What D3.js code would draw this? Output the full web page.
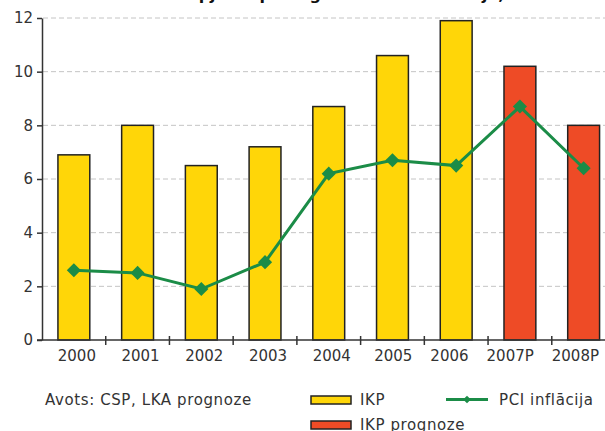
<!DOCTYPE html>
<html>
<head>
<meta charset="utf-8">
<script src="https://cdn.jsdelivr.net/npm/d3@7"></script>
<style>
  body { margin: 0; background: #fff; }
  svg { display: block; font-family: "DejaVu Sans", Verdana, sans-serif; }
</style>
</head>
<body>
<div id="chart"></div>
<script>
var categories = ['2000', '2001', '2002', '2003', '2004', '2005', '2006', '2007P', '2008P'];
var gdp = [6.9, 8.0, 6.5, 7.2, 8.7, 10.6, 11.9, 10.2, 8.0];
var forecast = [false, false, false, false, false, false, false, true, true];
var inflation = [2.6, 2.5, 1.9, 2.9, 6.2, 6.7, 6.5, 8.7, 6.4];
var yTicks = [0, 2, 4, 6, 8, 10, 12];
var title = 'IKP apjoma pieaugums un PCI inflācija, %';
var source = 'Avots: CSP, LKA prognoze';
var legendItems = ['IKP', 'IKP prognoze', 'PCI inflācija'];

var width = 605, height = 431;
var yellow = '#ffd608', red = '#ee4b26', green = '#1b8c47';

var svg = d3.select('#chart').append('svg')
    .attr('width', width)
    .attr('height', height);

var x = d3.scaleBand()
    .domain(categories)
    .range([42, 615.5])
    .paddingInner(0.5)
    .paddingOuter(0.25);

var y = d3.scaleLinear()
    .domain([0, 12])
    .range([340, 18]);

// title, cut off at the top like the source image
svg.append('text')
    .attr('x', 526)
    .attr('y', -0.5)
    .attr('text-anchor', 'end')
    .style('font-size', '16px')
    .style('font-weight', 'bold')
    .style('fill', '#111')
    .text(title);

// gridlines
svg.append('g').selectAll('line')
    .data(yTicks.filter(function(d) { return d > 0; }))
    .enter().append('line')
    .attr('x1', 43).attr('x2', width)
    .attr('y1', function(d) { return y(d); })
    .attr('y2', function(d) { return y(d); })
    .style('stroke', '#c4c4c4')
    .style('stroke-dasharray', '5,3');

// bars
svg.append('g').selectAll('rect')
    .data(categories)
    .enter().append('rect')
    .attr('x', function(d) { return x(d); })
    .attr('y', function(d, i) { return y(gdp[i]); })
    .attr('width', x.bandwidth())
    .attr('height', function(d, i) { return y(0) - y(gdp[i]); })
    .style('fill', function(d, i) { return forecast[i] ? red : yellow; })
    .style('stroke', '#222')
    .style('stroke-width', 1.5);

// y axis
var yAxis = svg.append('g')
    .attr('transform', 'translate(42,0)')
    .call(d3.axisLeft(y).tickValues(yTicks).tickSize(5).tickPadding(4).tickSizeOuter(0));
yAxis.select('.domain').style('stroke', '#333').style('stroke-width', 1.5);
yAxis.selectAll('.tick line').style('stroke', '#333').style('stroke-width', 1.5);
yAxis.selectAll('.tick text')
    .style('font-size', '15px')
    .style('fill', '#333')
    .style('font-family', '"DejaVu Sans", Verdana, sans-serif');

// x axis: labels near band centres, ticks between bands
var xAxis = svg.append('g')
    .attr('transform', 'translate(0,' + y(0) + ')')
    .call(d3.axisBottom(x).tickSize(0).tickPadding(10));
xAxis.select('.domain').remove();
xAxis.selectAll('.tick text')
    .style('font-size', '15px')
    .style('fill', '#333')
    .style('font-family', '"DejaVu Sans", Verdana, sans-serif')
    .attr('x', 3);

// keep labels inside the picture: push from the right so they don't crowd
var labels = xAxis.selectAll('.tick text').nodes();
var limit = width - 6, gap = 18;
for (var i = labels.length - 1; i >= 0; i--) {
    var tick = labels[i].parentNode;
    var cx = x(categories[i]) + x.bandwidth() / 2 + 3;
    var half = labels[i].getComputedTextLength() / 2;
    if (cx + half > limit) cx = limit - half;
    d3.select(labels[i]).attr('x', cx - (x(categories[i]) + x.bandwidth() / 2));
    limit = cx - half - gap;
}

svg.append('line')
    .attr('x1', 37).attr('x2', width)
    .attr('y1', y(0)).attr('y2', y(0))
    .style('stroke', '#333').style('stroke-width', 1.5);

var step = x.step();
svg.append('g').selectAll('line')
    .data(categories.slice(1))
    .enter().append('line')
    .attr('x1', function(d) { return x(d) - (step - x.bandwidth()) / 2; })
    .attr('x2', function(d) { return x(d) - (step - x.bandwidth()) / 2; })
    .attr('y1', y(0) - 4).attr('y2', y(0) + 5)
    .style('stroke', '#333').style('stroke-width', 1.5);

// inflation line
var line = d3.line()
    .x(function(d, i) { return x(categories[i]) + x.bandwidth() / 2; })
    .y(function(d) { return y(d); });

svg.append('path')
    .datum(inflation)
    .attr('d', line)
    .style('fill', 'none')
    .style('stroke', green)
    .style('stroke-width', 3);

var diamond = d3.symbol().type(d3.symbolSquare).size(100);
svg.append('g').selectAll('path')
    .data(inflation)
    .enter().append('path')
    .attr('d', diamond)
    .attr('transform', function(d, i) {
        return 'translate(' + (x(categories[i]) + x.bandwidth() / 2) + ',' + y(d) + ') rotate(45)';
    })
    .style('fill', green);

// source note
svg.append('text')
    .attr('x', 45)
    .attr('y', 404.5)
    .style('font-size', '15px')
    .style('letter-spacing', '0.6px')
    .style('fill', '#333')
    .text(source);

// legend
var legend = svg.append('g')
    .style('font-size', '15px')
    .style('letter-spacing', '0.6px');
legend.append('rect')
    .attr('x', 311).attr('y', 396).attr('width', 40).attr('height', 8)
    .style('fill', yellow).style('stroke', '#222').style('stroke-width', 1.5);
legend.append('text')
    .attr('x', 360).attr('y', 404.5)
    .style('fill', '#333')
    .text(legendItems[0]);

legend.append('rect')
    .attr('x', 311).attr('y', 421).attr('width', 40).attr('height', 8)
    .style('fill', red).style('stroke', '#222').style('stroke-width', 1.5);
legend.append('text')
    .attr('x', 360).attr('y', 430)
    .style('fill', '#333')
    .text(legendItems[1]);

legend.append('line')
    .attr('x1', 446).attr('x2', 488)
    .attr('y1', 399.5).attr('y2', 399.5)
    .style('stroke', green).style('stroke-width', 3);
legend.append('path')
    .attr('d', d3.symbol().type(d3.symbolSquare).size(30))
    .attr('transform', 'translate(467,399.5) rotate(45)')
    .style('fill', green);
legend.append('text')
    .attr('x', 499).attr('y', 404.5)
    .style('fill', '#333')
    .text(legendItems[2]);
</script>
</body>
</html>
